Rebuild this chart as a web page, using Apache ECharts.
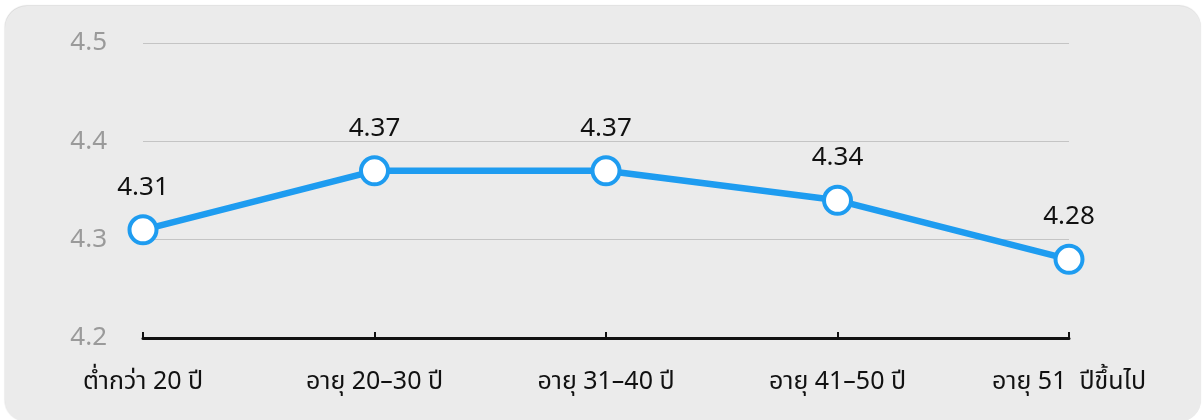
<!DOCTYPE html>
<html>
<head>
<meta charset="utf-8">
<script src="https://cdn.jsdelivr.net/npm/echarts@6/dist/echarts.min.js"></script>
<style>
  html, body { margin: 0; padding: 0; background: #ffffff; }
  #card {
    position: absolute; left: 5px; top: 6px; width: 1196px; height: 416px;
    background: #ebebeb; border-radius: 22px;
    box-shadow: 0 -1px 1px rgba(0,0,0,0.12), -1px 0 1px rgba(0,0,0,0.06);
  }
  #chart { position: absolute; left: 0; top: 0; width: 1204px; height: 420px; }
</style>
</head>
<body>
<div id="card"></div>
<div id="chart"></div>
<script>
const categories = ['ต่ำกว่า 20 ปี', 'อายุ 20–30 ปี', 'อายุ 31–40 ปี', 'อายุ 41–50 ปี', 'อายุ 51  ปีขึ้นไป']
const scores = [4.31, 4.37, 4.37, 4.34, 4.28]

const fontFamily = '"Noto Sans", "Noto Sans Thai", "DejaVu Sans", sans-serif'

const chart = echarts.init(document.getElementById('chart'))
chart.setOption({
    animation: false,
    grid: { left: 143, right: 135, top: 43, bottom: 82 },
    xAxis: {
        type: 'category',
        data: categories,
        boundaryGap: false,
        axisLine: { lineStyle: { color: '#111', width: 3 } },
        axisTick: { inside: true, length: 6, lineStyle: { color: '#111', width: 2 } },
        axisLabel: { color: '#111', fontSize: 25, margin: 31, fontFamily: fontFamily }
    },
    yAxis: {
        type: 'value',
        min: 4.2,
        max: 4.5,
        interval: 0.1,
        axisLine: { show: false },
        axisTick: { show: false },
        axisLabel: { color: '#9a9a9a', fontSize: 26, margin: 36, fontFamily: fontFamily },
        splitLine: { lineStyle: { color: '#c4c4c4', width: 1 } }
    },
    series: [{
        type: 'line',
        data: scores,
        symbol: 'circle',
        symbolSize: 27,
        lineStyle: { color: '#1e9cf0', width: 6.5 },
        itemStyle: { color: '#ffffff', borderColor: '#1e9cf0', borderWidth: 4 },
        label: {
            show: true,
            position: 'top',
            distance: 14,
            color: '#111',
            fontSize: 26,
            fontFamily: fontFamily,
            formatter: p => p.value.toFixed(2)
        }
    }]
})
</script>
</body>
</html>
